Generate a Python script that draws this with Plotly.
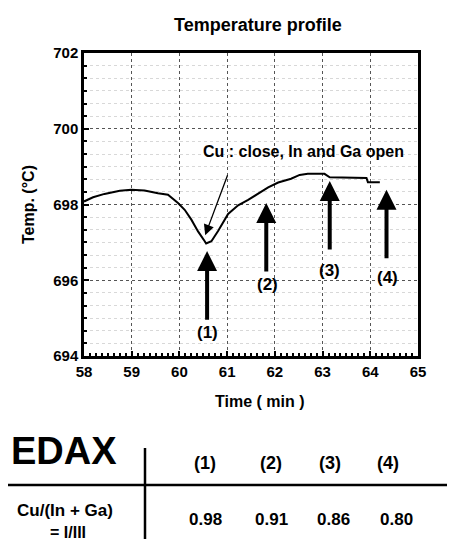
import plotly.graph_objects as go

# ---- data ----
time_min = [58.0, 58.19, 58.43, 58.75, 58.99, 59.27, 59.55, 59.76, 59.97, 60.11,
            60.25, 60.39, 60.53, 60.56, 60.67, 60.81, 61.02, 61.23, 61.44, 61.65,
            61.86, 62.07, 62.34, 62.52, 62.69, 63.04, 63.15, 63.92, 63.95, 64.20]
temp_c = [698.08, 698.19, 698.28, 698.36, 698.39, 698.37, 698.30, 698.26, 698.04, 697.86,
          697.60, 697.29, 697.03, 696.97, 697.03, 697.30, 697.75, 697.98, 698.12, 698.28,
          698.45, 698.58, 698.68, 698.78, 698.81, 698.81, 698.72, 698.70, 698.59, 698.59]

sample_labels = ["(1)", "(2)", "(3)", "(4)"]
sample_time = [60.58, 61.82, 63.15, 64.34]
arrow_tail = [694.92, 696.19, 696.77, 696.54]
arrow_tip = [696.77, 698.04, 698.62, 698.39]
label_time = [60.58, 61.84, 63.15, 64.37]
label_temp = [694.63, 695.88, 696.25, 696.06]

note_text = "Cu : close, In and Ga open"
note_pos = (62.59, 699.41)
note_tail = (61.02, 698.81)
note_tip = (60.54, 697.19)

edax_ratio = ["0.98", "0.91", "0.86", "0.80"]
x_ticks = [58, 59, 60, 61, 62, 63, 64, 65]
y_ticks = [694, 696, 698, 700, 702]

FONT = "Liberation Sans"
W, H = 455, 539
L, R, T, B = 76, 410, 45, 348


def px(x):
    return (x - L) / (R - L)


def py(y):
    return (B - y) / (B - T)


fig = go.Figure()
fig.add_trace(go.Scatter(x=time_min, y=temp_c, mode="lines",
                         line=dict(color="black", width=2), showlegend=False,
                         hoverinfo="skip"))

ann = []
# big arrows and labels
for lab, xt, ya, yt, lx, ly in zip(sample_labels, sample_time, arrow_tail, arrow_tip,
                                    label_time, label_temp):
    ann.append(dict(x=xt, y=yt, ax=xt, ay=ya, xref="x", yref="y", axref="x", ayref="y",
                    text="", showarrow=True, arrowhead=2, arrowwidth=4, arrowsize=1.0,
                    arrowcolor="black", standoff=0, startstandoff=0))
    ann.append(dict(x=lx, y=ly, xref="x", yref="y", text=lab, showarrow=False,
                    font=dict(family=FONT, size=17, color="black", weight="bold"),
                    xanchor="center", yanchor="middle"))
# note
ann.append(dict(x=note_pos[0], y=note_pos[1], xref="x", yref="y", text=note_text,
                showarrow=False, font=dict(family=FONT, size=16, color="black", weight="bold"),
                xanchor="center", yanchor="middle"))
ann.append(dict(x=note_tip[0], y=note_tip[1], ax=note_tail[0], ay=note_tail[1],
                xref="x", yref="y", axref="x", ayref="y", text="", showarrow=True,
                arrowhead=2, arrowwidth=1.3, arrowsize=1.6, arrowcolor="black",
                standoff=0))

# axis titles as annotations
ann.append(dict(x=px(252), y=py(393), xref="paper", yref="paper", text="Time ( min )",
                showarrow=False, font=dict(family=FONT, size=16, color="black", weight="bold"),
                xanchor="center", yanchor="middle"))
ann.append(dict(x=px(20), y=py(197), xref="paper", yref="paper", text="Temp. (°C)",
                textangle=-90, showarrow=False,
                font=dict(family=FONT, size=16, color="black", weight="bold"),
                xanchor="center", yanchor="middle"))
ann.append(dict(x=px(250), y=py(17), xref="paper", yref="paper", text="Temperature profile",
                showarrow=False, font=dict(family=FONT, size=18, color="black", weight="bold"),
                xanchor="center", yanchor="middle"))

# table
ann.append(dict(x=px(56), y=py(443), xref="paper", yref="paper", text="EDAX",
                showarrow=False, font=dict(family=FONT, size=38, color="black", weight="bold"),
                xanchor="center", yanchor="middle"))
ann.append(dict(x=px(57), y=py(502), xref="paper", yref="paper", text="Cu/(In + Ga)",
                showarrow=False, font=dict(family=FONT, size=17, color="black", weight="bold"),
                xanchor="center", yanchor="middle"))
ann.append(dict(x=px(60), y=py(524), xref="paper", yref="paper", text="= I/III",
                showarrow=False, font=dict(family=FONT, size=16, color="black", weight="bold"),
                xanchor="center", yanchor="middle", height=20, valign="middle"))
head_x = [197, 263, 322, 380]
val_x = [197, 263, 325, 388]
for lab, hx in zip(sample_labels, head_x):
    ann.append(dict(x=px(hx), y=py(455), xref="paper", yref="paper", text=lab,
                    showarrow=False, font=dict(family=FONT, size=18, color="black", weight="bold"),
                    xanchor="center", yanchor="middle"))
for v, vx in zip(edax_ratio, val_x):
    ann.append(dict(x=px(vx), y=py(511), xref="paper", yref="paper", text=v,
                    showarrow=False, font=dict(family=FONT, size=17, color="black", weight="bold"),
                    xanchor="center", yanchor="middle"))

shapes = [
    dict(type="line", xref="paper", yref="paper", x0=px(0), x1=px(455), y0=py(477), y1=py(477),
         line=dict(color="black", width=2.5)),
    dict(type="line", xref="paper", yref="paper", x0=px(137), x1=px(137), y0=py(440), y1=py(539),
         line=dict(color="black", width=2.5)),
]

axis_common = dict(showline=True, linecolor="black", linewidth=2.5, mirror=True,
                   ticks="inside", ticklen=5, tickwidth=1.5, tickcolor="black",
                   showgrid=True, gridcolor="#555", griddash="dot", gridwidth=1,
                   zeroline=False,
                   tickfont=dict(family=FONT, size=15, color="black", weight="bold"))

fig.update_layout(
    width=W, height=H,
    margin=dict(l=L, r=W - R, t=T, b=H - B),
    paper_bgcolor="white", plot_bgcolor="white",
    showlegend=False,
    xaxis=dict(range=[58, 65], tickvals=x_ticks, **axis_common,
               minor=dict(dtick=0.125, ticks="inside", ticklen=3, tickcolor="black",
                          showgrid=False)),
    yaxis=dict(range=[694, 702], tickvals=y_ticks, **axis_common,
               minor=dict(dtick=1 / 3, ticks="inside", ticklen=3, tickcolor="black",
                          showgrid=True, gridcolor="#d8d8d8", griddash="dot")),
    annotations=ann,
    shapes=shapes,
)

fig.write_html("out.html")
